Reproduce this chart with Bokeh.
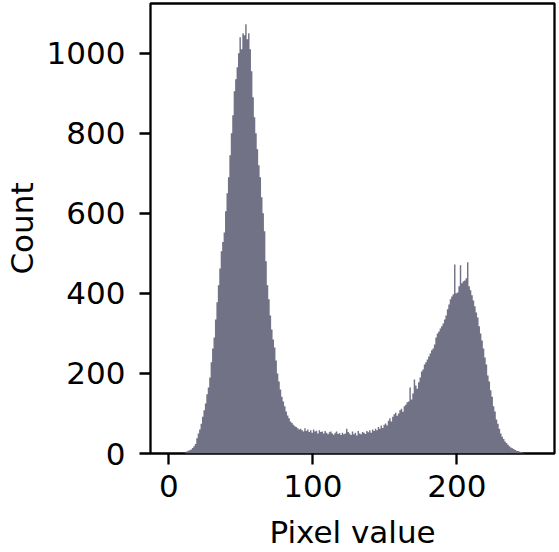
from bokeh.plotting import figure
from bokeh.models import FixedTicker, ColumnDataSource
from bokeh.embed import file_html
from bokeh.resources import INLINE

# Histogram of pixel values (one bin per value 0..255)
pixel_values = list(range(256))
counts = [
    0, 0, 0, 0, 0, 0, 0, 0, 0, 0,            # 0-9
    0, 2, 5, 7, 8, 10, 14, 18, 24, 38,       # 10-19
    50, 60, 74, 92, 108, 125, 148, 165, 190, 228,   # 20-29
    262, 290, 335, 378, 420, 462, 505, 528, 552, 605,  # 30-39
    650, 690, 745, 800, 845, 905, 935, 965, 1000, 1040,  # 40-49
    1010, 1050, 1045, 1072, 1035, 1050, 1010, 955, 890, 840,  # 50-59
    800, 760, 720, 690, 640, 600, 555, 480, 420, 385,  # 60-69
    345, 310, 285, 265, 232, 200, 180, 160, 142, 130,  # 70-79
    118, 105, 95, 88, 80, 76, 72, 68, 66, 63,  # 80-89
    60, 62, 58, 55, 63, 56, 60, 54, 58, 52,   # 90-99
    60, 55, 57, 50, 58, 54, 55, 50, 56, 52,   # 100-109
    48, 53, 55, 50, 47, 52, 55, 49, 51, 46,   # 110-119
    52, 48, 50, 62, 54, 50, 46, 55, 48, 52,   # 120-129
    45, 56, 50, 48, 54, 52, 49, 56, 53, 58,   # 130-139
    52, 60, 56, 62, 58, 66, 62, 70, 64, 72,   # 140-149
    75, 70, 82, 88, 80, 92, 98, 102, 94, 100,  # 150-159
    108, 112, 104, 118, 122, 128, 130, 165, 135, 150,  # 160-169
    185, 170, 162, 178, 190, 205, 210, 222, 228, 235,  # 170-179
    242, 250, 258, 262, 272, 290, 300, 305, 312, 318,  # 180-189
    325, 335, 345, 360, 372, 385, 392, 398, 472, 400,  # 190-199
    402, 418, 470, 425, 430, 432, 438, 478, 418, 408,  # 200-209
    395, 382, 368, 352, 340, 318, 300, 282, 262, 240,  # 210-219
    222, 195, 180, 158, 142, 118, 105, 85, 74, 62,  # 220-229
    50, 42, 36, 30, 26, 22, 18, 15, 13, 11,   # 230-239
    9, 7, 6, 5, 4, 2, 1, 0, 0, 0,             # 240-249
    0, 0, 0, 0, 0, 0,                         # 250-255
]
x_ticks = [0, 100, 200]
y_ticks = [0, 200, 400, 600, 800, 1000]
x_label = "Pixel value"
y_label = "Count"

FONT = "DejaVu Sans"
FS = "31px"
BAR = "#727287"

# bin edges: each bin v spans [v, v+1); step "after" holds each count across its bin
edges = pixel_values + [pixel_values[-1] + 1]
src = ColumnDataSource(dict(
    x=edges,
    y1=[0] * len(edges),
    y2=counts + [counts[-1]],
))

p = figure(width=559, height=552, x_range=(-12.75, 267.75), y_range=(0, 1124),
           output_backend="svg", toolbar_location=None,
           min_border_left=150, min_border_right=5, min_border_top=3, min_border_bottom=99)

p.varea_step(x="x", y1="y1", y2="y2", step_mode="after", source=src,
             fill_color=BAR, fill_alpha=1.0)

p.xgrid.visible = False
p.ygrid.visible = False
p.background_fill_color = "white"
p.border_fill_color = "white"
p.outline_line_color = "black"
p.outline_line_width = 2.3
p.outline_line_alpha = 1.0

p.xaxis.ticker = FixedTicker(ticks=x_ticks)
p.yaxis.ticker = FixedTicker(ticks=y_ticks)

for ax in (p.xaxis[0], p.yaxis[0]):
    ax.axis_line_color = None
    ax.major_tick_in = 0
    ax.major_tick_out = 11
    ax.major_tick_line_width = 2.3
    ax.major_tick_line_color = "black"
    ax.minor_tick_line_color = None
    ax.major_label_text_font = FONT
    ax.major_label_text_font_size = FS
    ax.major_label_text_color = "black"
    ax.axis_label_text_font = FONT
    ax.axis_label_text_font_size = FS
    ax.axis_label_text_font_style = "normal"
    ax.axis_label_text_color = "black"

p.xaxis.axis_label = x_label
p.yaxis.axis_label = y_label
p.xaxis.major_label_standoff = 10
p.yaxis.major_label_standoff = 14
p.xaxis.axis_label_standoff = 14
p.yaxis.axis_label_standoff = 4

open("out.html", "w").write(file_html(p, INLINE))
